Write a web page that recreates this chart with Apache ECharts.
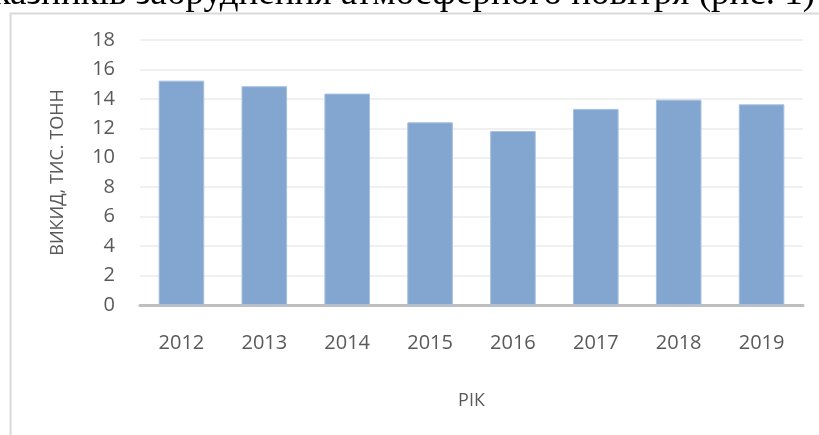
<!DOCTYPE html>
<html>
<head>
<meta charset="utf-8">
<script src="https://cdn.jsdelivr.net/npm/echarts@6/dist/echarts.min.js"></script>
<style>
  html, body { margin: 0; padding: 0; background: #fff; }
  #chart { width: 819px; height: 435px; }
</style>
</head>
<body>
<div id="chart"></div>
<script>
// роки та викиди, тис. тонн
const years = ['2012', '2013', '2014', '2015', '2016', '2017', '2018', '2019'];
const emissions = [15.24, 14.86, 14.36, 12.41, 11.82, 13.32, 13.95, 13.63];
const yTicks = { min: 0, max: 18, interval: 2 };

const labelFont = '"Open Sans", "Noto Sans", sans-serif';

let chart = echarts.init(document.getElementById('chart'));
let option = {
  animation: false,
  graphic: [
    {
      type: 'rect',
      left: 8,
      top: 11,
      shape: { x: 0, y: 0, width: 900, height: 500 },
      style: { fill: 'none', stroke: '#d9d9d9', lineWidth: 2 }
    },
    {
      type: 'text',
      right: 4,
      top: -24,
      style: {
        text: 'казників забруднення атмосферного повітря (рис. 1)',
        font: '37px "Liberation Serif", serif',
        fill: '#000'
      }
    }
  ],
  grid: {
    left: 140,
    right: 16,
    top: 40,
    bottom: 130
  },
  xAxis: {
    type: 'category',
    data: years,
    name: 'РІК',
    nameLocation: 'middle',
    nameGap: 87,
    nameTextStyle: { color: '#595959', fontSize: 18, fontFamily: labelFont },
    axisTick: { show: false },
    axisLine: { lineStyle: { color: '#bfbfbf', width: 3 } },
    axisLabel: { color: '#595959', fontSize: 20, fontFamily: labelFont, margin: 28 }
  },
  yAxis: {
    type: 'value',
    min: yTicks.min,
    max: yTicks.max,
    interval: yTicks.interval,
    name: 'ВИКИД, ТИС. ТОНН',
    nameLocation: 'middle',
    nameGap: 73,
    nameTextStyle: { color: '#595959', fontSize: 18, fontFamily: labelFont },
    axisLine: { show: false },
    axisTick: { show: false },
    axisLabel: { color: '#595959', fontSize: 20, fontFamily: labelFont, margin: 25 },
    splitLine: { lineStyle: { color: '#ebebeb', width: 1.5 } }
  },
  series: [
    {
      type: 'bar',
      data: emissions,
      barWidth: '55%',
      itemStyle: { color: '#82a6d0', borderColor: '#a7c0df', borderWidth: 1 }
    }
  ]
};
chart.setOption(option);
window.addEventListener('resize', function () {
  chart.resize();
});
</script>
</body>
</html>
